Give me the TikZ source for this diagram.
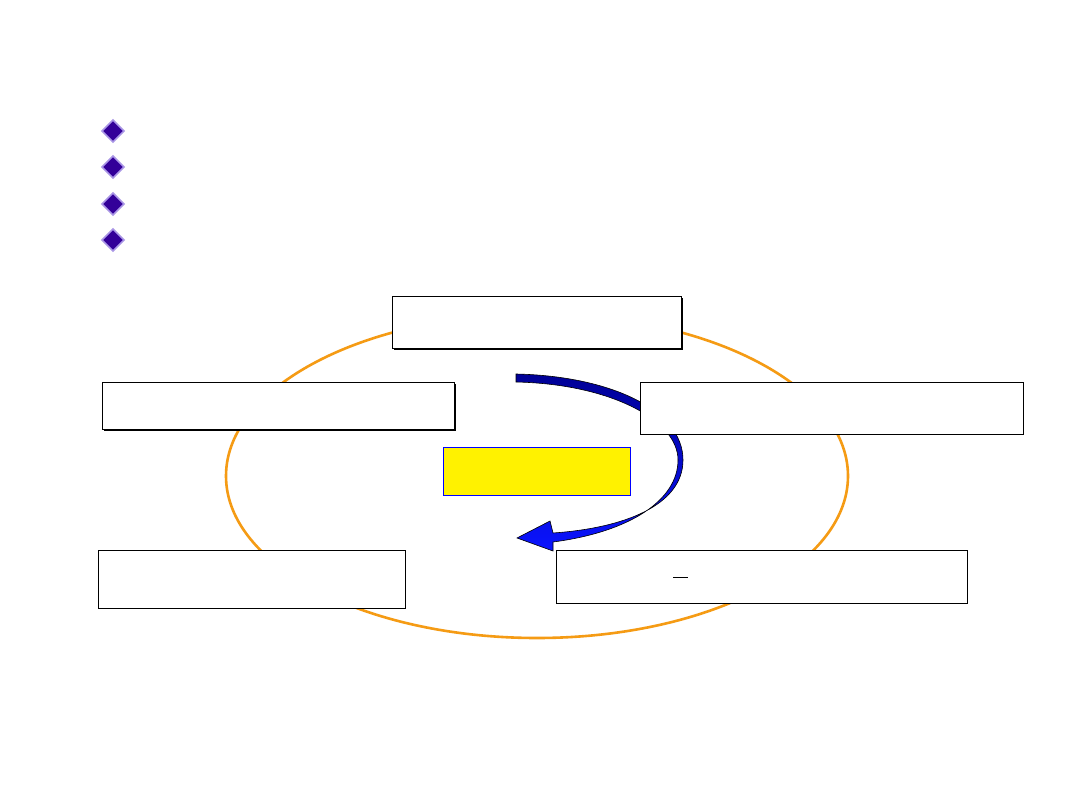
\documentclass[tikz,border=0pt]{standalone}
\begin{document}
\begin{tikzpicture}[x=1pt,y=-1pt,
  box/.style={draw=black,fill=white,line width=0.9pt},
  bul/.style={fill={rgb,255:red,51;green,0;blue,153},draw={rgb,255:red,170;green,150;blue,230},line width=1.6pt}]
\useasboundingbox (0,0) rectangle (1080,810);
\fill[white] (0,0) rectangle (1080,810);
\foreach \y/\n in {131/b1,167/b2,204/b3,240/b4}
  \path[bul] (113,\y-11) -- (124,\y) -- (113,\y+11) -- (102,\y) -- cycle;
\draw[line width=2.6pt,color={rgb,255:red,245;green,155;blue,20}] (537,476) ellipse [x radius=311,y radius=162];
% shadows
\foreach \a/\b/\c/\d in {392/296/681/348,102/382/454/429}
  \fill[black] (\a+2,\b+2) rectangle (\c+2,\d+2);
\node[box,minimum width=289pt,minimum height=52pt,anchor=north west,inner sep=0] (top) at (392,296) {};
\node[box,minimum width=352pt,minimum height=47pt,anchor=north west,inner sep=0] (left) at (102,382) {};
\node[box,minimum width=307pt,minimum height=58pt,anchor=north west,inner sep=0] (bl) at (98,550) {};
\node[box,minimum width=411pt,minimum height=53pt,anchor=north west,inner sep=0] (br) at (556,550) {};
\draw[line width=0.9pt] (673,577) -- (688,577);
\node[draw=blue,fill=yellow,line width=1pt,minimum width=187pt,minimum height=48pt,anchor=north west,inner sep=0] (mid) at (443,447) {};
% arrow
\path[draw=black,line width=0.6pt,top color={rgb,255:red,0;green,0;blue,150},bottom color={rgb,255:red,10;green,20;blue,255}]
 (516,374) .. controls (610,376) and (683,410) .. (683,460)
 .. controls (683,505) and (625,528) .. (553,533) -- (550,521) -- (517,538) -- (553,551) -- (553,542)
 .. controls (630,532) and (678,500) .. (678,460)
 .. controls (678,420) and (610,384) .. (516,382) -- cycle;
\node[box,minimum width=383pt,minimum height=52pt,anchor=north west,inner sep=0] (right) at (640,382) {};
\end{tikzpicture}
\end{document}
